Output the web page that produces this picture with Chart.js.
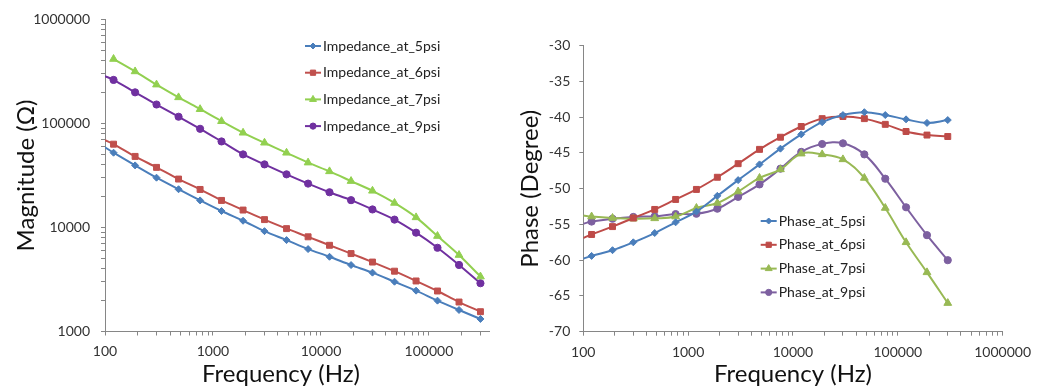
<!DOCTYPE html>
<html>
<head>
<meta charset="utf-8">
<script src="https://cdn.jsdelivr.net/npm/chart.js@4"></script>
<style>
  body { margin: 0; background: #fff; }
  #magnitude { position: absolute; left: 0; top: 0; }
  #fase { position: absolute; left: 515px; top: 0; }
</style>
</head>
<body>
<canvas id="magnitude" width="515" height="391"></canvas>
<canvas id="fase" width="524" height="391"></canvas>
<script>
// frequências (Hz) — o primeiro ponto (100 Hz) só aparece como início da linha
const frequencias = [100, 120, 190, 300, 480, 760, 1200, 1900, 3000, 4800, 7600, 12000, 19000, 30000, 48000, 76000, 120000, 190000, 300000];

// magnitude (ohm)
const imp5psi = [59000, 52300, 39500, 30100, 23300, 18200, 14400, 11600, 9220, 7560, 6200, 5230, 4350, 3680, 3010, 2470, 1980, 1610, 1320];
const imp6psi = [69000, 63200, 48200, 37800, 29200, 23200, 18200, 14700, 11900, 9750, 8130, 6740, 5610, 4650, 3800, 3060, 2450, 1920, 1550];
const imp7psi = [null, 416000, 316000, 236000, 178000, 137000, 105000, 81300, 65200, 52200, 42000, 34600, 27900, 22500, 17200, 12500, 8270, 5430, 3370];
const imp9psi = [285000, 262000, 199000, 152000, 116000, 88800, 67100, 50400, 40400, 32400, 26400, 21800, 18300, 14900, 11900, 8910, 6380, 4360, 2910];

// fase (graus)
const fase5psi = [-59.8, -59.4, -58.6, -57.5, -56.2, -54.7, -53.2, -51.0, -48.8, -46.6, -44.4, -42.4, -40.7, -39.7, -39.3, -39.7, -40.3, -40.8, -40.4];
const fase6psi = [-56.9, -56.4, -55.3, -54.1, -52.9, -51.5, -50.1, -48.4, -46.5, -44.5, -42.8, -41.3, -40.2, -39.9, -40.2, -41.0, -42.0, -42.5, -42.7];
const fase7psi = [-53.75, -53.9, -54.1, -54.2, -54.15, -53.9, -52.7, -52.0, -50.4, -48.5, -47.3, -45.1, -45.2, -45.9, -48.5, -52.7, -57.5, -61.7, -66.0];
const fase9psi = [-54.9, -54.6, -54.2, -53.95, -53.85, -53.55, -53.5, -52.8, -51.15, -49.4, -47.2, -44.85, -43.75, -43.65, -45.2, -48.6, -52.6, -56.5, -60.0];

// rótulos dos eixos
const ticksFreq = [100, 1000, 10000, 100000, 1000000];
const ticksMag = [1000, 10000, 100000, 1000000];
const ticksFase = [-70, -65, -60, -55, -50, -45, -40, -35, -30];

const fonte = "Lato, 'Open Sans', sans-serif";
const corEixo = '#868686';
const corTexto = '#333';

// marcas de 1..9 por década
function marcasLog(min, max) {
  const lista = [];
  for (let d = 1; d <= 1e6; d *= 10) {
    for (let m = 1; m < 10; m++) {
      const v = m * d;
      if (v >= min && v <= max) lista.push(v);
    }
  }
  return lista;
}

function serie(label, valores, cor, estilo, raio, tensao) {
  return {
    label: label,
    data: frequencias.map((f, i) => ({ x: f, y: valores[i] })),
    borderColor: cor,
    backgroundColor: cor,
    pointBackgroundColor: cor,
    pointBorderColor: cor,
    pointStyle: estilo,
    pointRadius: c => c.dataIndex === 0 ? 0 : raio,
    pointHoverRadius: 0,
    pointBorderWidth: 1,
    raioLegenda: raio,
    borderWidth: 2,
    tension: tensao
  };
}

// legenda desenhada dentro da área do gráfico, estilo Excel (linha + marcador)
const legendaInterna = {
  id: 'legendaInterna',
  afterDraw(chart, args, opts) {
    const ctx = chart.ctx;
    ctx.save();
    ctx.font = opts.font;
    ctx.textBaseline = 'middle';
    chart.data.datasets.forEach((ds, i) => {
      const y = opts.y + i * opts.gap;
      ctx.strokeStyle = ds.borderColor;
      ctx.lineWidth = 2;
      ctx.beginPath();
      ctx.moveTo(opts.x, y);
      ctx.lineTo(opts.x + 16, y);
      ctx.stroke();
      ctx.fillStyle = ds.pointBackgroundColor;
      ctx.strokeStyle = ds.pointBorderColor;
      ctx.lineWidth = 1;
      Chart.helpers.drawPoint(ctx, { pointStyle: ds.pointStyle, radius: ds.raioLegenda - 0.5, rotation: 0, borderWidth: 1 }, opts.x + 8, y);
      ctx.fillStyle = opts.color;
      ctx.fillText(ds.label, opts.x + 18, y);
    });
    if (opts.tituloX) {
      ctx.font = '24px ' + fonte;
      ctx.fillStyle = '#111';
      ctx.textAlign = 'center';
      ctx.fillText(opts.tituloX.texto, opts.tituloX.x, opts.tituloX.y);
    }
    ctx.restore();
  }
};

function eixoLog(min, max, rotulos, extra) {
  return Object.assign({
    type: 'logarithmic',
    min: min,
    max: max,
    afterBuildTicks: s => { s.ticks = marcasLog(min, max).map(v => ({ value: v })); },
    ticks: {
      autoSkip: false,
      maxRotation: 0,
      padding: 8,
      color: corTexto,
      font: { family: fonte, size: 14 },
      callback: v => rotulos.includes(v) ? String(v) : ''
    },
    grid: { drawOnChartArea: false, drawTicks: true, tickLength: 4, color: corEixo },
    border: { color: corEixo, width: 1 }
  }, extra);
}

const magTicksY = eixoLog(1000, 1000000, ticksMag, {
  afterFit: s => { s.width = 105; },
  title: { display: true, text: 'Magnitude (Ω)', color: '#111', font: { family: fonte, size: 24 }, padding: { top: 12, bottom: 0 } }
});
magTicksY.ticks.padding = 11;

new Chart(document.getElementById('magnitude'), {
  type: 'line',
  data: {
    datasets: [
      serie('Impedance_at_5psi', imp5psi, '#4A7EBB', 'rectRot', 3.5, 0.3),
      serie('Impedance_at_6psi', imp6psi, '#C0504D', 'rect', 4.2, 0.3),
      serie('Impedance_at_7psi', imp7psi, '#92D050', 'triangle', 4.5, 0.3),
      serie('Impedance_at_9psi', imp9psi, '#7030A0', 'circle', 3.6, 0.3)
    ]
  },
  options: {
    responsive: false,
    animation: false,
    devicePixelRatio: 1,
    layout: { padding: { left: 0, top: 18.5, right: 26, bottom: 0 } },
    plugins: {
      legend: { display: false },
      tooltip: { enabled: false },
      legendaInterna: {
        x: 305, y: 46, gap: 26.7, font: '14px ' + fonte, color: '#222',
        tituloX: { texto: 'Frequency (Hz)', x: 281, y: 374.6 }
      }
    },
    scales: {
      x: eixoLog(100, 360000, ticksFreq, {
        afterFit: s => { s.height = 59.5; }
      }),
      y: magTicksY
    }
  },
  plugins: [legendaInterna]
});

new Chart(document.getElementById('fase'), {
  type: 'line',
  data: {
    datasets: [
      serie('Phase_at_5psi', fase5psi, '#4A7EBB', 'rectRot', 3.5, 0.4),
      serie('Phase_at_6psi', fase6psi, '#BE4B48', 'rect', 4.2, 0.4),
      serie('Phase_at_7psi', fase7psi, '#98B954', 'triangle', 4.5, 0.4),
      serie('Phase_at_9psi', fase9psi, '#7D60A0', 'circle', 3.6, 0.4)
    ]
  },
  options: {
    responsive: false,
    animation: false,
    devicePixelRatio: 1,
    layout: { padding: { left: 0, top: 45.7, right: 33.3, bottom: 0 } },
    plugins: {
      legend: { display: false },
      tooltip: { enabled: false },
      legendaInterna: { x: 245.7, y: 221, gap: 23.8, font: '14px ' + fonte, color: '#222' }
    },
    scales: {
      x: eixoLog(100, 1000000, ticksFreq, {
        afterFit: s => { s.height = 59.3; },
        title: { display: true, text: 'Frequency (Hz)', color: '#111', font: { family: fonte, size: 24 }, padding: { top: 0, bottom: 2 } }
      }),
      y: {
        type: 'linear',
        min: -70,
        max: -30,
        afterBuildTicks: s => { s.ticks = ticksFase.map(v => ({ value: v })); },
        afterFit: s => { s.width = 68.3; },
        ticks: { padding: 9, color: corTexto, font: { family: fonte, size: 14 }, callback: v => String(v) },
        grid: { drawOnChartArea: false, drawTicks: true, tickLength: 4, color: corEixo },
        border: { color: corEixo, width: 1 },
        title: { display: true, text: 'Phase (Degree)', color: '#111', font: { family: fonte, size: 24 }, padding: { top: 1, bottom: 0 } }
      }
    }
  },
  plugins: [legendaInterna]
});
</script>
</body>
</html>
